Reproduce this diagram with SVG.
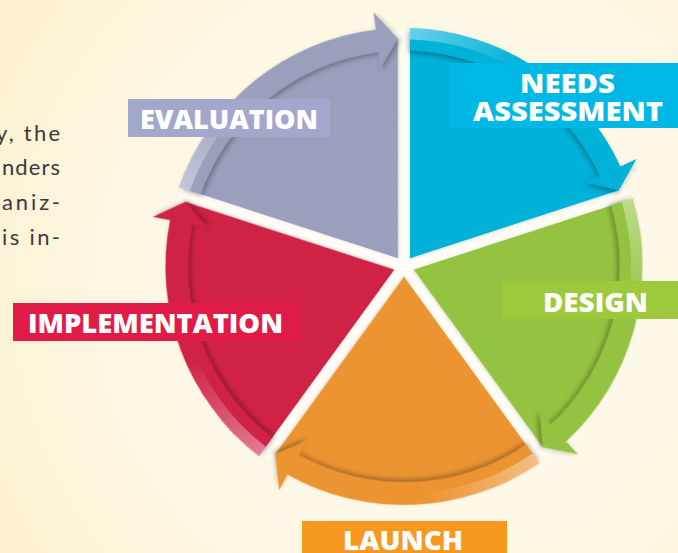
<svg xmlns="http://www.w3.org/2000/svg" xmlns:xlink="http://www.w3.org/1999/xlink" width="678" height="553" viewBox="0 0 678 553">
  <defs>
    <radialGradient id="bg" cx="430" cy="290" r="520" gradientUnits="userSpaceOnUse">
      <stop offset="0" stop-color="#fffcf2"/>
      <stop offset="0.55" stop-color="#fdf7e4"/>
      <stop offset="1" stop-color="#fcf0cf"/>
    </radialGradient>
    <!-- light sheen on the tail end of each rim arrow (local, unrotated coords) -->
    <linearGradient id="tailSheen" gradientUnits="userSpaceOnUse" x1="6" y1="-232" x2="118" y2="-200">
      <stop offset="0" stop-color="#ffffff" stop-opacity="0.4"/>
      <stop offset="1" stop-color="#ffffff" stop-opacity="0"/>
    </linearGradient>
    <filter id="arrowShadow" x="-20%" y="-20%" width="140%" height="140%">
      <feDropShadow dx="-1.2" dy="2.6" stdDeviation="2.4" flood-color="#000" flood-opacity="0.32"/>
    </filter>
    <filter id="wedgeShadow" x="-10%" y="-10%" width="120%" height="120%">
      <feDropShadow dx="0" dy="1" stdDeviation="1.6" flood-color="#000" flood-opacity="0.14"/>
    </filter>
    <!-- one 72-degree segment, drawn around the wheel centre, gaps of 12px -->
    <path id="wedge" d="M6 -8.26 L6 -227.92 A228 228 0 0 1 214.92 -76.14 Z"/>
    <!-- curved rim arrow running clockwise along the segment's outer edge -->
    <path id="rim" d="M6 -238.42 A238.5 238.5 0 0 1 216.51 -100.05 L232.4 -107.39 L214.92 -76.14 L181.56 -83.9 L196.08 -90.61 A216 216 0 0 0 6 -215.92 Z"/>
    <path id="sheen" d="M6 -238.42 A238.5 238.5 0 0 1 119.25 -206.55 L113.5 -196.59 A227 227 0 0 0 6 -226.92 Z" fill="url(#tailSheen)"/>
  </defs>
  <style>
    .label { font-family: "Open Sans", "Lato", "Liberation Sans", sans-serif; font-weight: 800; font-size: 27px; fill: #ffffff; text-anchor: middle; }
    .body { font-family: "Lato", "Open Sans", "Liberation Sans", sans-serif; font-size: 22px; fill: #3a3a3a; }
    .wedge { filter: url(#wedgeShadow); }
    .rim { filter: url(#arrowShadow); }
  </style>

  <rect width="678" height="553" fill="url(#bg)"/>

  <!-- body copy running in from the left -->
  <g id="body-text" class="body">
    <text x="-4" y="140.5" textLength="64">y, the</text>
    <text x="2" y="175" textLength="58">nders</text>
    <text x="2" y="209.5" textLength="58">aniz-</text>
    <text x="2" y="245" textLength="58">is in-</text>
  </g>

  <!-- pale disc behind the wheel -->
  <circle cx="404" cy="266.5" r="236" fill="#fffdf7" opacity="0.8"/>

  <g id="needs-assessment">
    <g transform="translate(404 266.5)" fill="#00b1d8">
      <use href="#wedge" class="wedge"/>
      <use href="#rim" class="rim"/>
      <use href="#sheen"/>
    </g>
    <rect x="450" y="63" width="228" height="65" fill="#00b8e5"/>
    <text class="label" x="567.5" y="93" textLength="95" lengthAdjust="spacingAndGlyphs">NEEDS</text>
    <text class="label" x="568" y="121" textLength="190" lengthAdjust="spacingAndGlyphs">ASSESSMENT</text>
  </g>

  <g id="design">
    <g transform="translate(404 266.5) rotate(72)" fill="#93c33f">
      <use href="#wedge" class="wedge"/>
      <use href="#rim" class="rim"/>
      <use href="#sheen"/>
    </g>
    <rect x="503" y="281" width="175" height="38" fill="#9dca3c"/>
    <text class="label" x="595.5" y="312" textLength="105" lengthAdjust="spacingAndGlyphs">DESIGN</text>
  </g>

  <g id="launch">
    <g transform="translate(404 266.5) rotate(144)" fill="#ec9431">
      <use href="#wedge" class="wedge"/>
      <use href="#rim" class="rim"/>
      <use href="#sheen"/>
    </g>
    <rect x="302" y="521" width="205" height="32" fill="#f7991f"/>
    <text class="label" x="403" y="550" textLength="120" lengthAdjust="spacingAndGlyphs">LAUNCH</text>
  </g>

  <g id="implementation">
    <g transform="translate(404 266.5) rotate(216)" fill="#cf2044">
      <use href="#wedge" class="wedge"/>
      <use href="#rim" class="rim"/>
      <use href="#sheen"/>
    </g>
    <rect x="13" y="303" width="287" height="38" fill="#e11b48"/>
    <text class="label" x="155.5" y="333" textLength="255" lengthAdjust="spacingAndGlyphs">IMPLEMENTATION</text>
  </g>

  <g id="evaluation">
    <g transform="translate(404 266.5) rotate(288)" fill="#9a9fbc">
      <use href="#wedge" class="wedge"/>
      <use href="#rim" class="rim"/>
      <use href="#sheen"/>
    </g>
    <rect x="128" y="99" width="202" height="38" fill="#a3a7cc"/>
    <text class="label" x="229" y="128.5" textLength="178" lengthAdjust="spacingAndGlyphs">EVALUATION</text>
  </g>
</svg>
